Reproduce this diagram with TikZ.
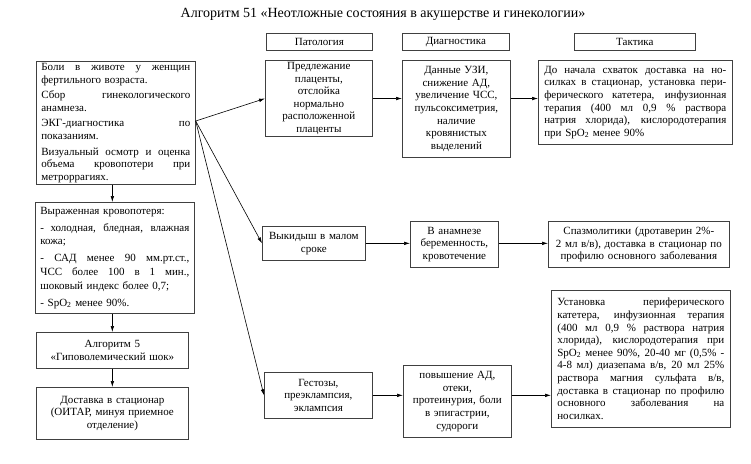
\documentclass[tikz,border=0pt]{standalone}
\usepackage{fontspec}
\setmainfont{Liberation Serif}
\usetikzlibrary{arrows.meta,calc}
\newcommand{\jl}[1]{\makebox[\hsize][s]{\spaceskip=0pt\xspaceskip=0pt #1}}

\begin{document}
\begin{tikzpicture}[x=1pt,y=-1pt,
		box/.style={draw=black!75, line width=0.7pt, anchor=north west, inner xsep=3pt, inner ysep=2pt, font=\fontsize{11}{12.6}\selectfont},
		arr/.style={line width=0.6pt, -{Latex[length=6pt,width=3.6pt]}}]
			\useasboundingbox (0,0) rectangle (751,463);
			\node[font=\fontsize{14}{16}\selectfont] (title) at (383,14) {Алгоритм 51 «Неотложные состояния в акушерстве и гинекологии»};
			% headers
			\node[box, text width=100pt, minimum height=17pt, align=center] (hpat) at (266,33) {Патология};
			\node[box, text width=101pt, minimum height=17pt, align=center] (hdiag) at (402,33) {Диагностика};
			\node[box, text width=115pt, minimum height=17pt, align=center] (htact) at (574,33) {Тактика};
			% left column
			\node[box, inner xsep=5pt, text width=149pt, minimum height=121pt, align=left] (left1) at (36,61) {\jl{Боли в животе у женщин}\\ фертильного возраста.\\[3pt] \jl{Сбор гинекологического}\\ анамнеза.\\[3pt] \jl{ЭКГ-диагностика по}\\ показаниям.\\[3pt] \jl{Визуальный осмотр и оценка}\\ \jl{объема кровопотери при}\\ метроррагиях.};
			\node[box, inner xsep=5pt, text width=149pt, minimum height=111pt, align=left, font=\fontsize{11}{13.8}\selectfont] (left2) at (35,202) {Выраженная кровопотеря:\\[3pt] \jl{- холодная, бледная, влажная}\\ кожа;\\[3pt] \jl{- САД менее 90 мм.рт.ст.,}\\ \jl{ЧСС более 100 в 1 мин.,}\\ шоковый индекс более 0,7;\\[3pt] - SpO\textsubscript{2} менее 90\%.};
			\node[box, text width=146pt, minimum height=36pt, align=center] (left3) at (36,332) {Алгоритм 5\\«Гиповолемический шок»};
			\node[box, text width=146pt, minimum height=52pt, align=center] (left4) at (36,387) {Доставка в стационар\\(ОИТАР, минуя приемное\\отделение)};
			% first row
			\node[box, text width=101pt, minimum height=76pt, align=center] (pat1) at (265,60) {Предлежание\\плаценты,\\отслойка\\нормально\\расположенной\\плаценты};
			\node[box, text width=102pt, minimum height=97pt, align=center] (diag1) at (402,60) {Данные УЗИ,\\снижение АД,\\увеличение ЧСС,\\пульсоксиметрия,\\наличие\\кровянистых\\выделений};
			\node[box, inner xsep=6pt, text width=182pt, minimum height=84pt, align=left] (tact1) at (538,60) {\jl{До начала схваток доставка на но-}\\ \jl{силках в стационар, установка пери-}\\ \jl{ферического катетера, инфузионная}\\ \jl{терапия (400 мл 0,9 \% раствора}\\ \jl{натрия хлорида), кислородотерапия}\\ при SpO\textsubscript{2} менее 90\%};
			% second row
			\node[box, text width=97pt, minimum height=34pt, align=center] (pat2) at (262,226) {Выкидыш в малом\\сроке};
			\node[box, text width=82pt, minimum height=46pt, align=center] (diag2) at (410,221) {В анамнезе\\беременность,\\кровотечение};
			\node[box, text width=175pt, minimum height=46pt, align=center] (tact2) at (548,221) {Спазмолитики (дротаверин 2\%-\\2 мл в/в), доставка в стационар по\\профилю основного заболевания};
			% third row
			\node[box, text width=102pt, minimum height=46pt, align=center] (pat3) at (264,372) {Гестозы,\\преэклампсия,\\эклампсия};
			\node[box, text width=102pt, minimum height=72pt, align=center] (diag3) at (403,365) {повышение АД,\\отеки,\\протеинурия, боли\\в эпигастрии,\\судороги};
			\node[box, inner xsep=6pt, text width=167pt, minimum height=137pt, align=left] (tact3) at (551,290) {\jl{Установка периферического}\\ \jl{катетера, инфузионная терапия}\\ \jl{(400 мл 0,9 \% раствора натрия}\\ \jl{хлорида), кислородотерапия при}\\ \jl{SpO\textsubscript{2} менее 90\%, 20-40 мг  (0,5\% -}\\ \jl{4-8 мл) диазепама в/в, 20 мл 25\%}\\ \jl{раствора магния сульфата в/в,}\\ \jl{доставка в стационар по профилю}\\ \jl{основного заболевания на}\\ носилках.};
			% connectors
			\coordinate (fan) at ($(left1.north east)+(0,60)$);
			\draw[arr] (fan) -- (pat1.west);
			\draw[arr] (fan) -- (pat2.west);
			\draw[arr] (fan) -- (pat3.west);
			\draw[arr] (left1.south -| left3.north) -- (left2.north -| left3.north);
			\draw[arr] (left2.south -| left3.north) -- (left3.north);
			\draw[arr] (left3) -- (left4);
			\draw[arr] (pat1.east) -- (pat1.east -| diag1.west);
			\draw[arr] (diag1.east |- pat1.east) -- (tact1.west |- pat1.east);
			\draw[arr] (pat2.east) -- (pat2.east -| diag2.west);
			\draw[arr] (diag2.east |- pat2.east) -- (tact2.west |- pat2.east);
			\draw[arr] (pat3.east) -- (pat3.east -| diag3.west);
			\draw[arr] (diag3.east |- pat3.east) -- (tact3.west |- pat3.east);
	\end{tikzpicture}
\end{document}
